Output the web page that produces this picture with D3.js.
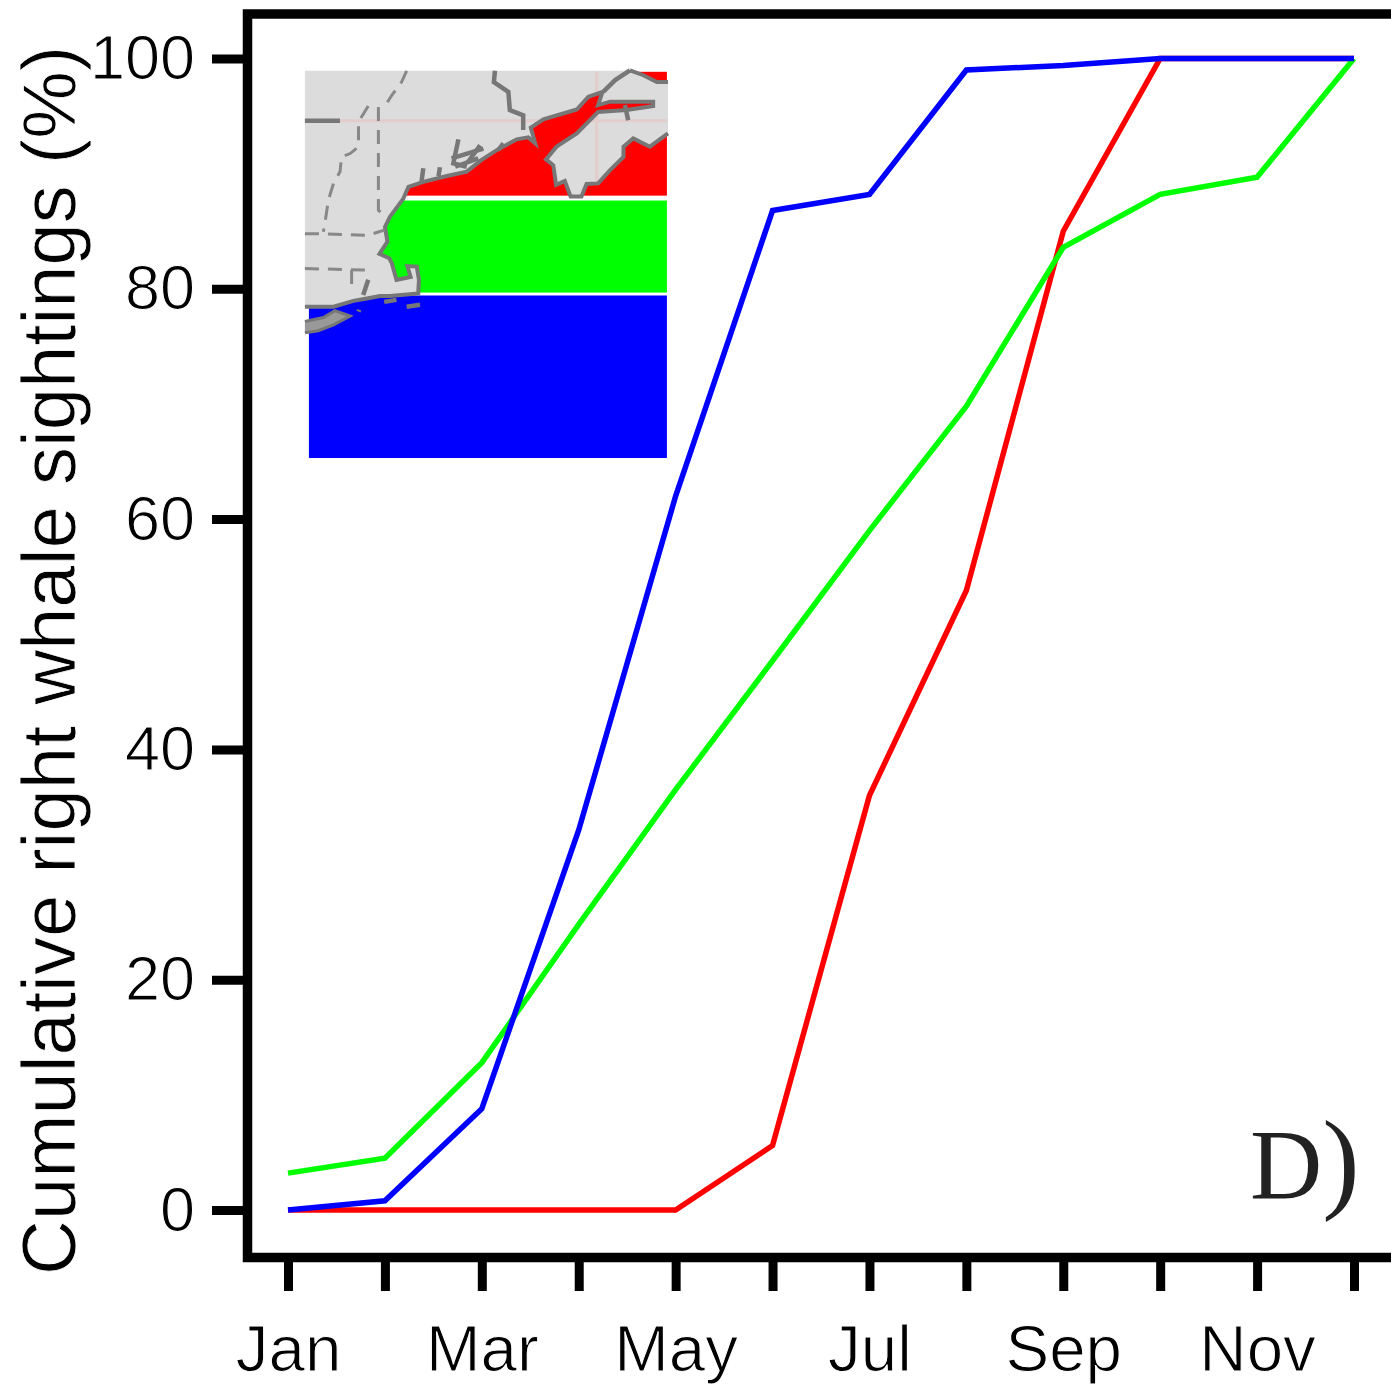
<!DOCTYPE html>
<html>
<head>
<meta charset="utf-8">
<script src="https://cdn.jsdelivr.net/npm/d3@7"></script>
<style>
  html, body { margin: 0; padding: 0; background: #fff; overflow: hidden; }
  svg { display: block; font-family: "Liberation Sans", Arial, sans-serif; }
</style>
</head>
<body>
<div id="chart"></div>
<script>
// cumulative sightings per month
const months = ["Jan", "Feb", "Mar", "Apr", "May", "Jun", "Jul", "Aug", "Sep", "Oct", "Nov", "Dec"];
const labelledMonths = ["Jan", "Mar", "May", "Jul", "Sep", "Nov"];
const yTicks = [0, 20, 40, 60, 80, 100];

const northValues = [0, 0, 0, 0, 0, 5.6, 36, 53.8, 85, 100, 100, 100];
const middleValues = [3.2, 4.5, 12.8, 24.8, 36.5, 47.7, 59, 69.8, 83.6, 88.2, 89.7, 100];
const southValues = [0, 0.8, 8.8, 33, 62, 86.8, 88.2, 99, 99.4, 100, 100, 100];

// inset map: latitude bands [north, south] and longitude extent
const bandLon = [-72.92, -63.03];
const northBand = [46.06, 43.53];
const middleBand = [43.43, 41.55];
const southBand = [41.49, 38.17];

// traced outline of the coast, [lon, lat]
const gulfCoast = [
  [-64.05, 46.09], [-63.68, 45.99], [-63.31, 45.85], [-63, 45.85]
];
const mainCoast = [
  [-63, 44.8], [-63.5, 44.53], [-63.96, 44.7], [-64.23, 44.53], [-64.23, 44.32], [-64.6, 44.05],
  [-64.93, 43.78], [-65.25, 43.77], [-65.39, 43.51], [-65.69, 43.51], [-65.85, 43.83], [-66.09, 43.75],
  [-66.17, 44.15], [-66.37, 44.27], [-66.08, 44.53], [-65.52, 44.8], [-64.93, 45.24], [-64.14, 45.28],
  [-63.41, 45.36], [-63.41, 45.45], [-64.6, 45.45], [-64.93, 45.38], [-64.81, 45.65], [-65.2, 45.55],
  [-65.52, 45.29], [-66.44, 45.09], [-66.79, 44.92], [-66.67, 44.6], [-66.86, 44.72], [-67.18, 44.68],
  [-67.73, 44.46], [-68.15, 44.26], [-68.56, 44.02], [-69.11, 43.93], [-69.76, 43.81], [-70.17, 43.71],
  [-70.31, 43.47], [-70.68, 43.1], [-70.82, 42.89], [-70.75, 42.59], [-70.97, 42.34], [-70.7, 42.25],
  [-70.63, 42.15], [-70.5, 41.81], [-70.11, 41.87], [-70.2, 42.09], [-69.94, 42.08], [-69.88, 41.81],
  [-69.9, 41.53], [-70.68, 41.48], [-70.96, 41.48], [-71.32, 41.43], [-71.69, 41.38], [-72.24, 41.26],
  [-73.03, 41.26]
];
const landCorners = [[-73.03, 46.08], [-64.2, 46.08]];
const landOutline = [...landCorners, ...gulfCoast, ...mainCoast];
const longIsland = [
  [-73.03, 40.96], [-72.52, 41.04], [-72.2, 41.18], [-71.78, 41.07], [-72.24, 40.89], [-72.66, 40.77], [-73.03, 40.73]
];
// short solid strokes: river mouths, islands, the Maine and New Brunswick lines
const coastDetails = [
  [[-68.79, 44.68], [-68.93, 44.19], [-68.56, 44.12]],
  [[-68.19, 44.56], [-68.52, 44.22]],
  [[-69.76, 44.09], [-69.81, 43.81]],
  [[-69.3, 44.11], [-69.34, 43.93]],
  [[-68.98, 44.29], [-68.1, 44.49]],
  [[-68.88, 44.12], [-68.24, 44.29]],
  [[-67.55, 44.6], [-67.69, 44.46]],
  [[-71.28, 41.81], [-71.42, 41.5]],
  [[-70.84, 41.36], [-70.5, 41.4]],
  [[-70.22, 41.26], [-69.85, 41.3]],
  [[-71.55, 41.16], [-71.53, 41.2]],
  [[-67.78, 46.08], [-67.81, 45.85], [-67.41, 45.65], [-67.37, 45.28], [-67, 45.17], [-67, 44.87]],
  [[-64.79, 45.65], [-64.46, 45.89], [-64.05, 46.09]],
  [[-64.19, 45.38], [-64.1, 45.07]],
  [[-73.03, 45.06], [-72.06, 45.06]]
];
const stateBorders = [
  [[-70.22, 46.08], [-70.36, 45.85], [-70.63, 45.58], [-70.86, 45.31]],
  [[-71.28, 45.36], [-71.55, 45.04], [-71.55, 44.53], [-71.78, 44.39], [-72.02, 44.32], [-72.06, 44.02],
   [-72.24, 43.78], [-72.38, 43.44], [-72.48, 42.96], [-72.52, 42.79]],
  [[-71, 45.34], [-71, 43.23], [-70.77, 43.1]],
  [[-73.03, 42.75], [-72.48, 42.75], [-71.28, 42.72], [-70.82, 42.83]],
  [[-73.03, 42.04], [-71.32, 42.01]],
  [[-71.74, 42.01], [-71.74, 41.66]]
];
const gridLat = 45.06;
const gridLon = -64.97;

const width = 1391;
const height = 1384;

const x = d3.scalePoint().domain(months).range([288, 1354]);
const y = d3.scaleLinear().domain([0, 100]).range([1210, 58.5]);

const mapX = d3.scaleLinear().domain([-73, -63]).range([306, 668]);
const mapY = d3.scaleLinear().domain([41.5, 38.17]).range([295, 458]);

const svg = d3.select("#chart").append("svg")
    .attr("width", width)
    .attr("height", height)
    .attr("viewBox", [0, 0, width, height]);

// inset map goes under the curves
const map = svg.append("g");
const mapLine = d3.line().x(d => mapX(d[0])).y(d => mapY(d[1]));

const bands = [[northBand, "#ff0000"], [middleBand, "#00ff00"], [southBand, "#0000ff"]];
map.selectAll("rect")
    .data(bands)
    .join("rect")
    .attr("x", mapX(bandLon[0]))
    .attr("width", mapX(bandLon[1]) - mapX(bandLon[0]))
    .attr("y", d => mapY(d[0][0]))
    .attr("height", d => mapY(d[0][1]) - mapY(d[0][0]))
    .attr("fill", d => d[1]);

map.selectAll("path.land")
    .data([landOutline, longIsland])
    .join("path")
    .attr("class", "land")
    .attr("d", d => mapLine(d))
    .attr("fill", "#dcdcdc")
    .attr("stroke", "none");

// the pink graticule only shows on land
svg.append("clipPath")
    .attr("id", "land-clip")
    .append("path")
    .attr("d", mapLine(landOutline));

map.append("g")
    .attr("clip-path", "url(#land-clip)")
    .selectAll("path")
    .data([[[bandLon[0], gridLat], [bandLon[1], gridLat]], [[gridLon, 46.06], [gridLon, 43.5]]])
    .join("path")
    .attr("d", d => mapLine(d))
    .attr("fill", "none")
    .attr("stroke", "#e3cccc")
    .attr("stroke-width", 3);

// coast strokes only, the closing edges of the land polygon stay unstroked
map.selectAll("path.coast")
    .data([gulfCoast, mainCoast])
    .join("path")
    .attr("class", "coast")
    .attr("d", d => mapLine(d))
    .attr("fill", "none")
    .attr("stroke", "#777")
    .attr("stroke-width", 4);
map.append("path")
    .attr("d", mapLine(longIsland))
    .attr("fill", "#999")
    .attr("stroke", "#777")
    .attr("stroke-width", 3);

map.selectAll("path.detail")
    .data(coastDetails)
    .join("path")
    .attr("class", "detail")
    .attr("d", d => mapLine(d))
    .attr("fill", "none")
    .attr("stroke", "#777")
    .attr("stroke-width", 4.5);

map.selectAll("path.border")
    .data(stateBorders)
    .join("path")
    .attr("class", "border")
    .attr("d", d => mapLine(d))
    .attr("fill", "none")
    .attr("stroke", "#888")
    .attr("stroke-width", 3)
    .attr("stroke-dasharray", "14 9");

// curves
const line = d3.line().x((d, i) => x(months[i])).y(d => y(d));
const series = [[northValues, "#ff0000"], [middleValues, "#00ff00"], [southValues, "#0000ff"]];
svg.append("g")
    .attr("fill", "none")
    .attr("stroke-width", 5.5)
    .attr("stroke-linejoin", "miter")
    .selectAll("path")
    .data(series)
    .join("path")
    .attr("stroke", d => d[1])
    .attr("d", d => line(d[0]));

// frame runs off the right side of the page
svg.append("rect")
    .attr("x", 247.5)
    .attr("y", 14)
    .attr("width", width)
    .attr("height", 1243.5)
    .attr("fill", "none")
    .attr("stroke", "#000")
    .attr("stroke-width", 9.5);

const xAxis = d3.axisBottom(x)
    .tickSize(33.5)
    .tickPadding(33)
    .tickFormat(d => labelledMonths.includes(d) ? d : "");
const yAxis = d3.axisLeft(y)
    .tickValues(yTicks)
    .tickSize(35.5)
    .tickPadding(17);

// a thin white outline takes the labels down to the reference's lighter weight
function thinText(sel, size, thin) {
    sel.attr("font-size", size)
        .attr("fill", "#000")
        .attr("stroke", "#fff")
        .attr("stroke-width", thin);
}

svg.append("g")
    .attr("transform", "translate(0,1257.5)")
    .call(xAxis)
    .call(g => g.select(".domain").remove())
    .call(g => g.selectAll("line").attr("stroke", "#000").attr("stroke-width", 9))
    .call(g => g.selectAll("text").call(thinText, 65.5, 1.1))
    .attr("font-family", null);

svg.append("g")
    .attr("transform", "translate(247.5,0)")
    .call(yAxis)
    .call(g => g.select(".domain").remove())
    .call(g => g.selectAll("line").attr("stroke", "#000").attr("stroke-width", 9))
    .call(g => g.selectAll("text").call(thinText, 63, 1.1))
    .attr("font-family", null);

svg.append("text")
    .attr("transform", "translate(75,1275) rotate(-90)")
    .call(thinText, 76, 0.8)
    .text("Cumulative right whale sightings (%)");

const panel = svg.append("text")
    .attr("x", 1250)
    .attr("y", 1198)
    .attr("font-family", "'Liberation Serif', serif")
    .attr("font-size", 100)
    .attr("fill", "#222");
panel.append("tspan").text("D");
panel.append("tspan").attr("font-size", 112).attr("font-weight", 100).text(")");
</script>
</body>
</html>
